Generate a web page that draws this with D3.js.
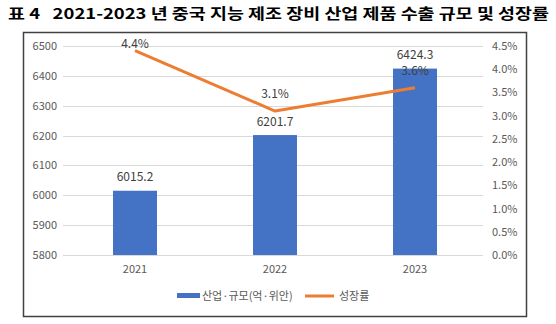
<!DOCTYPE html>
<html><head><meta charset="utf-8">
<script src="https://cdn.jsdelivr.net/npm/d3@7"></script>
<style>body{margin:0;background:#fff}svg{display:block}</style>
</head><body>
<svg id="c" width="556" height="324"></svg>
<script>
const categories = ["2021", "2022", "2023"];
const scaleValues = [6015.2, 6201.7, 6424.3];
const growthRates = [4.4, 3.1, 3.6];
const leftTicks = [5800, 5900, 6000, 6100, 6200, 6300, 6400, 6500];
const rightTicks = [0, 0.5, 1, 1.5, 2, 2.5, 3, 3.5, 4, 4.5];
const seriesNames = ["산업·규모(억·위안)", "성장률"];
const title = "표 4   2021-2023 년 중국 지능 제조 장비 산업 제품 수출 규모 및 성장률";

const svg = d3.select("#c");
const font = "'Noto Sans CJK KR', 'Noto Sans', sans-serif";
const W = 556, H = 324;

svg.append("rect").attr("width", W).attr("height", H).attr("fill", "#fff");

// title
svg.append("text").attr("x", 8).attr("y", 19)
  .attr("font-family", font).attr("font-weight", "bold").attr("font-size", 15)
  .attr("fill", "#000").attr("textLength", 541).attr("lengthAdjust", "spacingAndGlyphs")
  .style("white-space", "pre").text(title);

// chart border
svg.append("rect").attr("x", 23.5).attr("y", 32.5).attr("width", 503).attr("height", 284)
  .attr("fill", "#fff").attr("stroke", "#404040").attr("stroke-width", 1.5);

const plot = {left: 65, right: 485, top: 46, bottom: 255};
const x = d3.scaleBand().domain(categories).range([plot.left, plot.right]).paddingInner(0.686).paddingOuter(0.343);
const yL = d3.scaleLinear().domain([5800, 6500]).range([plot.bottom, plot.top]);
const yR = d3.scaleLinear().domain([0, 4.5]).range([plot.bottom, plot.top]);

// gridlines
svg.append("g").selectAll("line").data(leftTicks).join("line")
  .attr("x1", 63).attr("x2", 483)
  .attr("y1", d => Math.round(yL(d)) + 0.5).attr("y2", d => Math.round(yL(d)) + 0.5)
  .attr("stroke", "#d9d9d9").attr("stroke-width", 1);

// left axis
const axL = svg.append("g").attr("transform", "translate(63,0)")
  .call(d3.axisLeft(yL).tickValues(leftTicks).tickSize(0).tickPadding(6).tickFormat(d3.format("d")));
axL.select(".domain").remove();
axL.selectAll("text").attr("font-family", font).attr("font-size", 11).attr("fill", "#595959");

// right axis
const axR = svg.append("g").attr("transform", "translate(485,0)")
  .call(d3.axisRight(yR).tickValues(rightTicks).tickSize(0).tickPadding(7).tickFormat(d => d.toFixed(1) + "%"));
axR.select(".domain").remove();
axR.selectAll("text").attr("font-family", font).attr("font-size", 11).attr("fill", "#595959");

// x axis
const axX = svg.append("g").attr("transform", `translate(0,${plot.bottom})`)
  .call(d3.axisBottom(x).tickSize(0).tickPadding(10));
axX.select(".domain").remove();
axX.selectAll("text").attr("font-family", font).attr("font-size", 11).attr("fill", "#595959");

// bars
svg.append("g").selectAll("rect").data(scaleValues).join("rect")
  .attr("x", (d, i) => x(categories[i])).attr("width", x.bandwidth())
  .attr("y", d => yL(d)).attr("height", d => yL(5800) - yL(d))
  .attr("fill", "#4472C4");

// line
const line = d3.line().x((d, i) => x(categories[i]) + x.bandwidth() / 2).y(d => yR(d));
svg.append("path").datum(growthRates).attr("d", line)
  .attr("fill", "none").attr("stroke", "#ED7D31").attr("stroke-width", 3).attr("stroke-linejoin", "round");

// bar labels
svg.append("g").selectAll("text").data(scaleValues).join("text")
  .attr("x", (d, i) => x(categories[i]) + x.bandwidth() / 2)
  .attr("y", d => yL(d) - 9.5)
  .attr("text-anchor", "middle").attr("font-family", font).attr("font-size", 12).attr("fill", "#404040")
  .text(d => d.toFixed(1));

// line labels (kept inside the plot area, as the spreadsheet does)
svg.append("g").selectAll("text").data(growthRates).join("text")
  .attr("x", (d, i) => x(categories[i]) + x.bandwidth() / 2)
  .attr("y", d => Math.max(yR(d) - 13, plot.top + 2))
  .attr("text-anchor", "middle").attr("font-family", font).attr("font-size", 12).attr("fill", "#404040")
  .text(d => d.toFixed(1) + "%");

// legend
const lg = svg.append("g").attr("font-family", font).attr("font-size", 11).attr("fill", "#595959");
lg.append("rect").attr("x", 177).attr("y", 293).attr("width", 23).attr("height", 5).attr("fill", "#4472C4");
lg.append("text").attr("x", 202).attr("y", 300).text(seriesNames[0]);
lg.append("line").attr("x1", 305).attr("x2", 334).attr("y1", 296).attr("y2", 296)
  .attr("stroke", "#ED7D31").attr("stroke-width", 3);
lg.append("text").attr("x", 339).attr("y", 300).text(seriesNames[1]);
</script>
</body></html>
